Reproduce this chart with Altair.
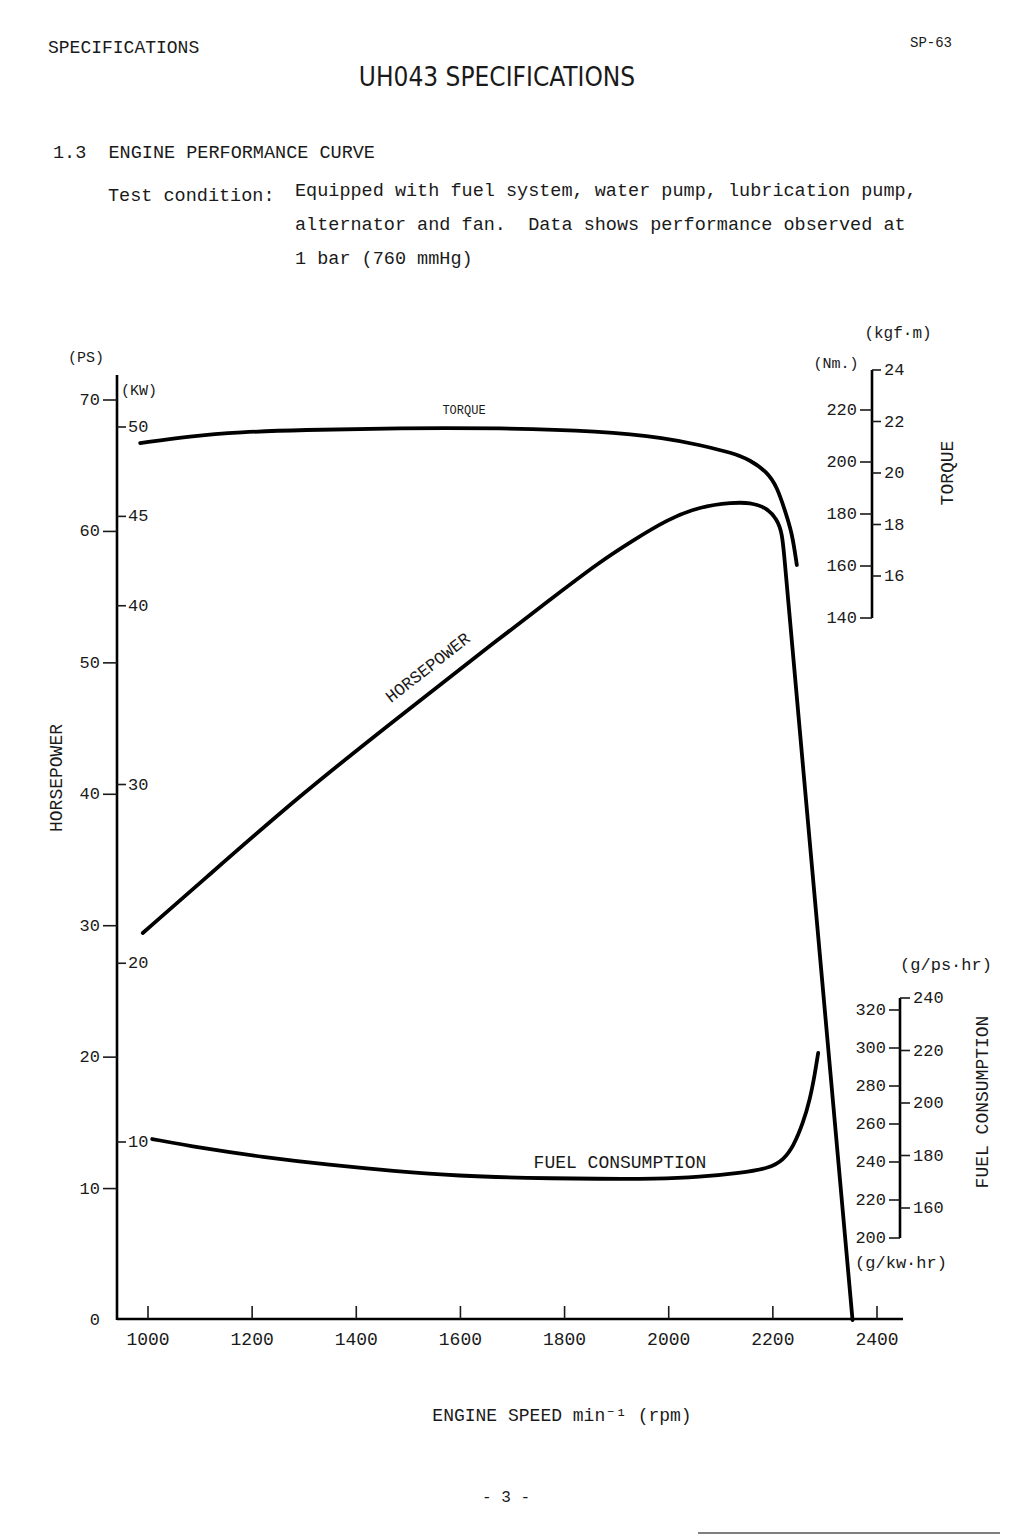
import altair as alt
import pandas as pd

# ---------------- data ----------------
rpm_torque = [985, 1081, 1177, 1292, 1484, 1676, 1868, 1997, 2060, 2123, 2156, 2189, 2208, 2223, 2237, 2246]
torque_nm = [207.3, 210.0, 211.5, 212.3, 213.1, 213.1, 211.9, 209.2, 206.5, 203.5, 200.8, 196.2, 190.4, 181.5, 172.7, 160.4]

rpm_hp = [990, 1100, 1292, 1484, 1676, 1772, 1868, 1931, 1997, 2060, 2123, 2156, 2189, 2208, 2218, 2223, 2229, 2243, 2353]
hp_ps = [29.45, 33.25, 39.94, 45.95, 51.9, 54.8, 57.7, 59.3, 60.9, 61.9, 62.2, 62.2, 61.8, 60.9, 59.9, 57.6, 55.0, 48.7, 0.0]

rpm_fuel = [1008, 1100, 1219, 1350, 1470, 1599, 1724, 1868, 1976, 2060, 2137, 2195, 2220, 2239, 2258, 2271, 2281, 2287]
fuel_gkwh = [252.1, 247.4, 242.6, 238.4, 235.3, 232.6, 231.6, 231.1, 231.1, 232.1, 234.2, 236.8, 241.1, 247.9, 260.5, 272.6, 286.8, 297.4]

rpm_ticks = [1000, 1200, 1400, 1600, 1800, 2000, 2200, 2400]
ps_ticks = [10, 20, 30, 40, 50, 60, 70]
ps_labels = [0, 10, 20, 30, 40, 50, 60, 70]
kw_ticks = [10, 20, 30, 40, 45, 50]
nm_ticks = [140, 160, 180, 200, 220]
kgfm_ticks = [16, 18, 20, 22, 24]
gkwh_ticks = [200, 220, 240, 260, 280, 300, 320]
gpsh_ticks = [160, 180, 200, 220, 240]

# ---------------- styles ----------------
MONO = "Liberation Mono, DejaVu Sans Mono, monospace"
COND = "DejaVu Sans Condensed, Liberation Sans Narrow, DejaVu Sans, sans-serif"
INK = "#1a1a1a"
NB = "\u00a0"


def S(domain, rng):
    return alt.Scale(domain=domain, range=rng, nice=False, zero=False)


XS = S([1000, 2400], [148, 877])
PS = S([0, 70], [1320, 400])
KW = S([10, 50], [1142, 427])
NM = S([140, 220], [618, 410])
KGF = S([16, 24], [576, 370])
GKWH = S([200, 320], [1238, 1010])
GPSH = S([160, 240], [1208, 998])

one = pd.DataFrame({"d": [0]})
layers = []


def curve(xs, ys, scale):
    df = pd.DataFrame({"rpm": xs, "v": ys})
    return alt.Chart(df).mark_line(color="black", strokeWidth=3.8, interpolate="basis",
                                   strokeCap="round").encode(
        x=alt.X("rpm:Q", scale=XS, axis=None),
        y=alt.Y("v:Q", scale=scale, axis=None),
    )


def yticks(vals, scale, x1, x2, width=1.6):
    df = pd.DataFrame({"v": vals})
    return alt.Chart(df).mark_rule(color=INK, strokeWidth=width).encode(
        x=alt.value(x1), x2=alt.value(x2), y=alt.Y("v:Q", scale=scale, axis=None))


def ylabels(vals, scale, x, align, size=17):
    df = pd.DataFrame({"v": vals, "t": [str(v) for v in vals]})
    return alt.Chart(df).mark_text(align=align, baseline="middle", font=MONO, fontSize=size,
                                   color=INK).encode(
        x=alt.value(x), y=alt.Y("v:Q", scale=scale, axis=None), text="t:N")


def spine(x1, y1, x2, y2, w=2.6):
    return alt.Chart(one).mark_rule(color="black", strokeWidth=w).encode(
        x=alt.value(x1), y=alt.value(y1), x2=alt.value(x2), y2=alt.value(y2))


def label(text, x, y, size=17, font=MONO, align="left", angle=0):
    df = pd.DataFrame({"t": [text.replace("  ", NB + NB)]})
    return alt.Chart(df).mark_text(align=align, baseline="middle", font=font, fontSize=size,
                                   angle=angle, color=INK).encode(
        x=alt.value(x), y=alt.value(y), text="t:N")


# curves
layers.append(curve(rpm_torque, torque_nm, NM))
layers.append(curve(rpm_hp, hp_ps, PS))
layers.append(curve(rpm_fuel, fuel_gkwh, GKWH))

# left axis (PS / kW)
layers.append(spine(117, 375, 117, 1320))
layers.append(yticks(ps_ticks, PS, 103, 117))
layers.append(ylabels(ps_labels, PS, 100, "right"))
layers.append(yticks(kw_ticks, KW, 117, 126))
layers.append(ylabels(kw_ticks, KW, 128, "left"))

# torque axis (Nm / kgf·m)
layers.append(spine(872, 370, 872, 618))
layers.append(yticks(nm_ticks, NM, 860, 872))
layers.append(ylabels(nm_ticks, NM, 857, "right"))
layers.append(yticks(kgfm_ticks, KGF, 872, 881))
layers.append(ylabels(kgfm_ticks, KGF, 884, "left"))

# fuel axis (g/kW·hr / g/ps·hr)
layers.append(spine(900, 998, 900, 1238))
layers.append(yticks(gkwh_ticks, GKWH, 889, 900))
layers.append(ylabels(gkwh_ticks, GKWH, 886, "right"))
layers.append(yticks(gpsh_ticks, GPSH, 900, 910))
layers.append(ylabels(gpsh_ticks, GPSH, 913, "left"))

# x axis
layers.append(spine(117, 1319, 903, 1319))
xt = pd.DataFrame({"rpm": rpm_ticks, "t": [str(v) for v in rpm_ticks]})
layers.append(alt.Chart(xt).mark_rule(color=INK, strokeWidth=1.6).encode(
    x=alt.X("rpm:Q", scale=XS, axis=None), y=alt.value(1306), y2=alt.value(1319)))
layers.append(alt.Chart(xt).mark_text(align="center", baseline="middle", font=MONO, fontSize=18,
                                      color=INK).encode(
    x=alt.X("rpm:Q", scale=XS, axis=None), y=alt.value(1340), text="t:N"))

# axis unit labels and titles
layers += [
    label("(PS)", 68, 357, size=15),
    label("(KW)", 121, 390, size=15),
    label("HORSEPOWER", 57, 778, size=18, align="center", angle=270),
    label("TORQUE", 464, 410, size=12, align="center"),
    label("HORSEPOWER", 428, 668, size=17, align="center", angle=322),
    label("FUEL CONSUMPTION", 620, 1163, size=18, align="center"),
    label("(kgf·m)", 898, 333, size=16, align="center"),
    label("(Nm.)", 836, 363, size=15, align="center"),
    label("TORQUE", 948, 473, size=18, align="center", angle=270),
    label("(g/ps·hr)", 946, 965, size=17, align="center"),
    label("FUEL CONSUMPTION", 983, 1102, size=18, align="center", angle=270),
    label("(g/kw·hr)", 901, 1263, size=17, align="center"),
    label("ENGINE SPEED min⁻¹ (rpm)", 562, 1416, size=18, align="center"),
    label("- 3 -", 506, 1497, size=16, align="center"),
]

# page header text
layers += [
    label("SPECIFICATIONS", 48, 48, size=18, font=MONO),
    label("SP-63", 910, 43, size=14, font=MONO),
    label("UH043 SPECIFICATIONS", 497, 78, size=26, font=COND, align="center"),
    label("1.3  ENGINE PERFORMANCE CURVE", 53, 152, size=18.5, font=MONO),
    label("Test condition:", 108, 195, size=18.5, font=MONO),
    label("Equipped with fuel system, water pump, lubrication pump,", 295, 190, size=18.5, font=MONO),
    label("alternator and fan.  Data shows performance observed at", 295, 224, size=18.5, font=MONO),
    label("1 bar (760 mmHg)", 295, 258, size=18.5, font=MONO),
]

# page edge line at the bottom right
layers.append(spine(698, 1533, 1000, 1533, w=1.2))

chart = alt.layer(*layers).resolve_scale(y="independent").properties(
    width=1024, height=1536, padding=0, autosize=alt.AutoSizeParams(type="none"),
    background="white",
).configure_view(stroke=None)

chart.save("out.html", embed_options={"renderer": "svg", "actions": False})
